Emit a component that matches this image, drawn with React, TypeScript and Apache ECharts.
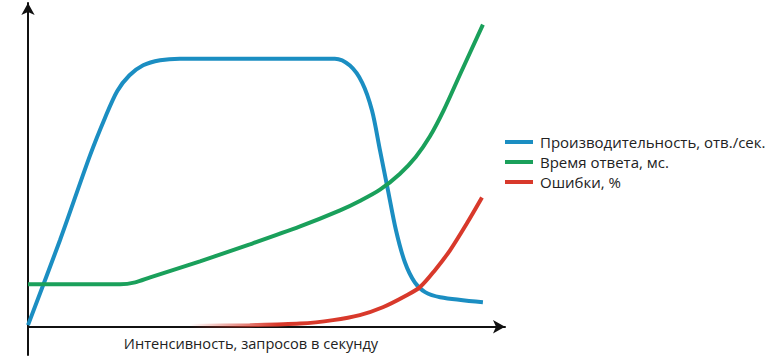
import React, { useEffect, useRef } from "react";
import * as echarts from "echarts";

const seriesNames = [
  "Производительность, отв./сек.",
  "Время ответа, мс.",
  "Ошибки, %",
];
const xAxisTitle = "Интенсивность, запросов в секунду";

// [intensity, value] pairs (arbitrary units, 0..100)
const throughput: [number, number][] = [
  [0, 0.5], [6.8, 27.5], [13.2, 54.5], [16.4, 66.5], [19.0, 75.0], [21.6, 80.0],
  [24.5, 83.2], [28.1, 84.8], [32.3, 85.3], [65.3, 85.3], [68.5, 83.1], [71.1, 77.7],
  [73.2, 68.8], [74.9, 56.1], [76.6, 43.4], [78.3, 30.7], [80.2, 20.5],
  [82.3, 14.1], [84.5, 11.0], [87.7, 9.4], [96.8, 7.8],
];
const responseTime: [number, number][] = [
  [0, 13.5], [19.6, 13.5], [22.8, 14.1], [26.0, 15.7], [36.6, 20.8],
  [47.2, 26.2], [57.9, 31.9], [66.4, 37.0], [70.6, 40.0], [74.9, 43.6],
  [79.1, 48.6], [82.5, 54.0], [85.5, 60.5], [88.5, 69.0], [92.0, 80.5], [96.8, 96.1],
];
const errors: [number, number][] = [
  [34.5, 0.2], [47.2, 0.5], [57.9, 1.0], [64.9, 2.1], [70.6, 3.7], [75.5, 6.2],
  [80.2, 9.7], [83.4, 12.6], [86.6, 18.0], [89.8, 24.3], [93.4, 32.9], [96.6, 41.1],
];

const BLUE = "#1b8ec2";
const GREEN = "#1aa05b";
const RED = "#d8392b";

export default function App() {
  const ref = useRef<HTMLDivElement>(null);
  useEffect(() => {
    if (!ref.current) return;
    const chart = echarts.init(ref.current, null, { renderer: "svg" });
    const font = "'Open Sans', 'Noto Sans', sans-serif";
    const lineCommon = {
      type: "line",
      smooth: 0.3,
      symbol: "none",
    };
    chart.setOption({
      animation: false,
      backgroundColor: "#ffffff",
      grid: { left: 28, top: 3, width: 477, height: 352 },
      xAxis: {
        type: "value",
        min: 0,
        max: 101.5,
        axisLine: {
          show: true,
          onZero: true,
          symbol: ["none", "arrow"],
          symbolSize: [10, 12],
          lineStyle: { color: "#111", width: 2 },
        },
        axisTick: { show: false },
        axisLabel: { show: false },
        splitLine: { show: false },
      },
      yAxis: {
        type: "value",
        min: -9,
        max: 103,
        axisLine: {
          show: true,
          onZero: false,
          symbol: ["none", "arrow"],
          symbolSize: [10, 12],
          lineStyle: { color: "#111", width: 2 },
        },
        axisTick: { show: false },
        axisLabel: { show: false },
        splitLine: { show: false },
      },
      legend: {
        orient: "vertical",
        left: 505,
        top: 132,
        itemWidth: 28,
        itemHeight: 4,
        itemGap: 0,
        padding: 0,
        icon: "rect",
        textStyle: {
          fontSize: 15,
          color: "#222",
          fontFamily: font,
          height: 20,
          lineHeight: 20,
          padding: [0, 0, 0, 2],
        },
        data: seriesNames,
      },
      graphic: [
        {
          type: "text",
          x: 251,
          y: 343,
          style: {
            text: xAxisTitle,
            fontSize: 14.6,
            fill: "#222",
            fontFamily: font,
            textAlign: "center",
            textVerticalAlign: "middle",
          },
        },
      ],
      series: [
        {
          ...lineCommon,
          name: seriesNames[0],
          data: throughput,
          color: BLUE,
          lineStyle: { color: BLUE, width: 4 },
        },
        {
          ...lineCommon,
          name: seriesNames[1],
          data: responseTime,
          color: GREEN,
          lineStyle: { color: GREEN, width: 4 },
        },
        {
          ...lineCommon,
          name: seriesNames[2],
          data: errors,
          color: RED,
          lineStyle: {
            width: 4,
            color: new echarts.graphic.LinearGradient(0, 0, 1, 0, [
              { offset: 0, color: "rgba(216,57,43,0)" },
              { offset: 0.3, color: "rgba(216,57,43,1)" },
              { offset: 1, color: "rgba(216,57,43,1)" },
            ]),
          },
        },
      ],
    });
    return () => chart.dispose();
  }, []);
  return (
    <div
      ref={ref}
      style={{ position: "fixed", left: 0, top: 0, width: 770, height: 363 }}
    />
  );
}
